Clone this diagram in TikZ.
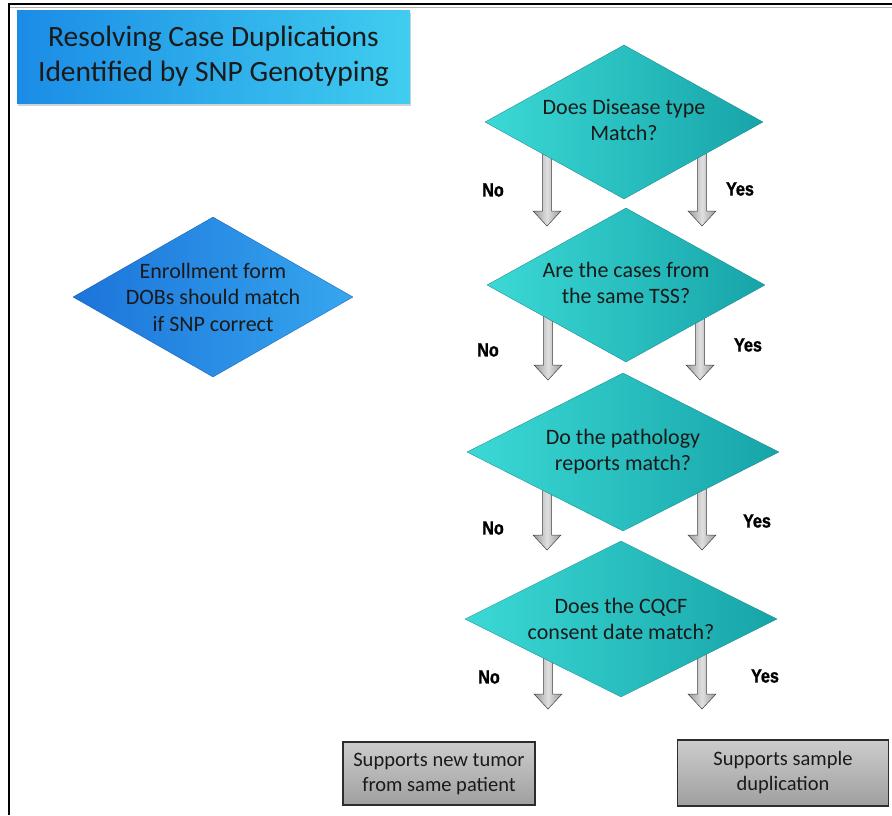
\documentclass[tikz,border=0pt]{standalone}
\usepackage{fontspec}
\setmainfont{Carlito}
\newfontfamily\lblfont{Liberation Sans}[FakeStretch=0.85, FakeBold=1.3]
\usetikzlibrary{shapes.geometric,calc,shadows}
\definecolor{tealA}{HTML}{3BD9D6}
\definecolor{tealB}{HTML}{17A4A8}
\definecolor{blueA}{HTML}{1C74DA}
\definecolor{blueB}{HTML}{36A6EF}
\definecolor{titleA}{HTML}{1B8CE6}
\definecolor{titleB}{HTML}{40CDEF}
\definecolor{txt}{HTML}{1A1A1A}
\tikzset{
  dia/.style={diamond, aspect=1.9, inner sep=-12pt, left color=tealA, right color=tealB,
    draw=tealB!80!black, line width=0.3pt, align=center, text=txt,
    font=\fontsize{22}{26}\selectfont},
  bluedia/.style={diamond, aspect=1.75, inner sep=-20pt, left color=blueA, right color=blueB,
    draw=blueA!80!black, line width=0.3pt, align=center, text=txt,
    font=\fontsize{22}{26.5}\selectfont},
  titlebox/.style={rectangle, inner sep=0pt, left color=titleA, right color=titleB,
    align=center, text=txt, font=\fontsize{29.5}{35}\selectfont,
    drop shadow={shadow xshift=1pt, shadow yshift=-3pt, opacity=0.35}},
  endbox/.style={rectangle, inner sep=0pt, top color=gray!40, bottom color=gray!75,
    draw=gray!35!black, line width=1.4pt, align=center, text=txt,
    font=\fontsize{20.5}{25}\selectfont},
  lbl/.style={inner sep=0pt, font=\lblfont\bfseries\fontsize{19}{22}\selectfont, text=black},
  arrowshape/.style={draw=gray!50!black, line width=0.5pt,
    left color=gray!80, right color=gray!80, middle color=gray!25},
}
\newcommand\grayarrow[2]{%
  \path[arrowshape] ($(#1)+(-4.5,0)$) -- ($(#2)+(-4.5,-15)$) -- ($(#2)+(-14,-15)$)
    -- (#2) -- ($(#2)+(14,-15)$) -- ($(#2)+(4.5,-15)$) -- ($(#1)+(4.5,0)$) -- cycle;}
\begin{document}
\begin{tikzpicture}[x=1pt,y=-1pt]
\useasboundingbox (0,0) rectangle (892,815);
\fill[white] (0,0) rectangle (892,815);
% frame
\draw[gray!60, line width=1pt] (10,7) -- (892,7);
\draw[black, line width=2.5pt] (9,815) -- (9,4) -- (892,4);

% arrow coordinates
\coordinate (a1ls) at (547,150); \coordinate (a1lt) at (547,226);
\coordinate (a1rs) at (702,150); \coordinate (a1rt) at (702,226);
\coordinate (a2ls) at (548,315); \coordinate (a2lt) at (548,380);
\coordinate (a2rs) at (700,315); \coordinate (a2rt) at (700,380);
\coordinate (a3ls) at (547,487); \coordinate (a3lt) at (547,550);
\coordinate (a3rs) at (702,487); \coordinate (a3rt) at (702,550);
\coordinate (a4ls) at (548,650); \coordinate (a4lt) at (548,709);
\coordinate (a4rs) at (702,650); \coordinate (a4rt) at (702,709);
\grayarrow{a1ls}{a1lt}\grayarrow{a1rs}{a1rt}
\grayarrow{a2ls}{a2lt}\grayarrow{a2rs}{a2rt}
\grayarrow{a3ls}{a3lt}\grayarrow{a3rs}{a3rt}
\grayarrow{a4ls}{a4lt}\grayarrow{a4rs}{a4rt}

% title
\node[titlebox, minimum width=393pt, minimum height=93pt] (title) at (213.5,56.5)
  {Resolving Case Duplications\\Identified by SNP Genotyping};

% diamonds
\node[dia, minimum width=278pt, minimum height=154pt] (d1) at (624,122)
  {\raisebox{-6pt}{\begin{tabular}{c}Does Disease type\\Match?\end{tabular}}};
\node[dia, minimum width=278pt, minimum height=154pt] (d2) at (626,285)
  {\raisebox{-6pt}{\begin{tabular}{c}Are the cases from\\the same TSS?\end{tabular}}};
\node[dia, minimum width=312pt, minimum height=158pt] (d3) at (623,452)
  {Do the pathology\\reports match?};
\node[dia, minimum width=312pt, minimum height=156pt] (d4) at (621,619)
  {Does the CQCF\\consent date match?};
\node[bluedia, minimum width=280pt, minimum height=160pt] (l1) at (213,297)
  {Enrollment form\\DOBs should match\\if SNP correct};

% labels
\node[lbl] (n1) at (493,190) {No};  \node[lbl] (y1) at (740,189) {Yes};
\node[lbl] (n2) at (488,350) {No};  \node[lbl] (y2) at (748,345) {Yes};
\node[lbl] (n3) at (493,528) {No};  \node[lbl] (y3) at (757,521) {Yes};
\node[lbl] (n4) at (489,677) {No};  \node[lbl] (y4) at (765,676) {Yes};

% end boxes
\node[endbox, minimum width=192pt, minimum height=63pt] (e1) at (439,773.5)
  {Supports new tumor\\from same patient};
\node[endbox, minimum width=211pt, minimum height=66pt] (e2) at (783,773)
  {Supports sample\\duplication};
\end{tikzpicture}
\end{document}
